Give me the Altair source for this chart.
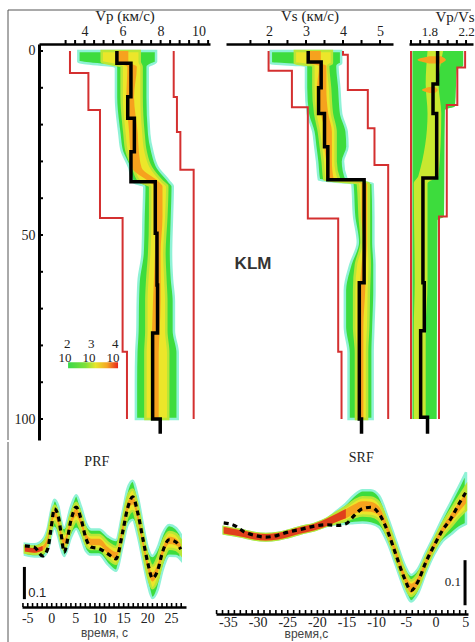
import altair as alt
import pandas as pd

SERIF = "Liberation Serif"
SANS = "Liberation Sans"

GREEN = "#3ddc3d"
FRINGE = "#8ff2d6"
YELLOW = "#ece62a"
ORANGE = "#f6a21e"
RED_CORE = "#e0401c"
BOUND_RED = "#d43030"

# ---------------- top panels (depth, km) ----------------
vp_model_depth = [0, 3.3, 12.4, 18.3, 27.4, 35.5, 49.5, 63.6, 76.6, 100, 104]
vp_model_val = [5.7, 6.44, 6.27, 6.62, 6.44, 7.72, 7.81, 7.84, 7.58, 7.98]
vp_min_depth = [0, 6, 16, 45.4, 81.7, 100]
vp_min_val = [3.23, 4.2, 4.81, 6.0, 6.23]
vp_max_depth = [0, 12.5, 22, 32.3, 100]
vp_max_val = [8.69, 8.86, 9.04, 9.74]
vp_cloud_depth = [0, 2.9, 4.3, 12.5, 22.5, 27, 31.7, 35.5, 36.8, 45, 55, 62, 68, 76, 82, 90, 100]
vp_outer_l = [3.67, 3.67, 5.65, 5.65, 5.83, 5.95, 6.35, 6.53, 7.14, 7.1, 7.05, 6.85, 6.8, 6.78, 6.72, 6.7, 6.7]
vp_outer_r = [7.76, 7.76, 7.32, 7.32, 7.4, 7.55, 7.85, 8.46, 8.64, 8.6, 8.55, 8.6, 8.7, 8.7, 8.9, 8.9, 8.9]
vp_yel_l = [4.9, 4.9, 5.95, 5.95, 6.1, 6.2, 6.55, 6.9, 7.45, 7.45, 7.4, 7.3, 7.25, 7.25, 7.2, 7.2, 7.2]
vp_yel_r = [6.9, 6.9, 7.0, 7.0, 7.1, 7.2, 7.5, 8.1, 8.35, 8.3, 8.2, 8.25, 8.3, 8.3, 8.4, 8.4, 8.4]
vp_org_l = [5.6, 5.6, 6.25, 6.2, 6.35, 6.4, 6.5, 7.4, 7.7, 7.72, 7.7, 7.65, 7.6, 7.55, 7.5, 7.5, 7.5]
vp_org_r = [6.3, 6.3, 6.75, 6.6, 6.8, 6.85, 7.0, 7.9, 8.1, 8.1, 8.0, 8.0, 8.0, 7.95, 7.9, 7.9, 7.9]

vs_model_depth = [0, 3, 10, 17, 26, 35, 63, 100, 104]
vs_model_val = [3.06, 3.41, 3.34, 3.50, 3.59, 4.57, 4.44, 4.50]
vs_min_depth = [0, 5.4, 15.3, 45.5, 81.7, 100]
vs_min_val = [1.99, 2.62, 3.05, 3.87, 3.96]
vs_max_depth = [0, 1, 10.6, 21, 31, 100]
vs_max_val = [4.0, 4.13, 4.67, 4.85, 5.22]
vs_cloud_depth = [0, 3.3, 4, 10, 17, 22, 26, 30, 35, 36, 45, 52, 58, 65, 75, 82, 90, 100]
vs_outer_l = [2.05, 2.05, 3.0, 3.0, 3.05, 3.2, 3.25, 3.3, 3.35, 4.25, 4.3, 4.4, 4.2, 4.05, 4.05, 4.15, 4.15, 4.15]
vs_outer_r = [3.95, 3.95, 3.85, 3.9, 3.95, 4.1, 4.12, 4.0, 4.1, 4.8, 4.82, 4.82, 4.85, 4.85, 4.82, 4.8, 4.8, 4.8]
vs_yel_l = [2.7, 2.7, 3.2, 3.2, 3.25, 3.35, 3.4, 3.45, 3.5, 4.4, 4.45, 4.5, 4.35, 4.3, 4.3, 4.35, 4.35, 4.35]
vs_yel_r = [3.7, 3.7, 3.6, 3.65, 3.7, 3.8, 3.8, 3.8, 3.9, 4.7, 4.7, 4.7, 4.72, 4.7, 4.68, 4.65, 4.65, 4.65]
vs_org_l = [3.1, 3.1, 3.35, 3.3, 3.4, 3.5, 3.5, 3.55, 3.6, 4.5, 4.5, 4.55, 4.5, 4.45, 4.42, 4.42, 4.42, 4.42]
vs_org_r = [3.4, 3.4, 3.55, 3.55, 3.6, 3.7, 3.7, 3.7, 3.75, 4.65, 4.65, 4.65, 4.62, 4.6, 4.55, 4.55, 4.55, 4.55]

vpvs_model_depth = [0, 9, 17, 34.5, 63, 76, 99.5, 104]
vpvs_model_val = [1.89, 1.84, 1.88, 1.73, 1.745, 1.705, 1.78]
vpvs_min_depth = [0, 100]
vpvs_min_val = [1.6]
vpvs_max_depth = [0, 4.5, 14.7, 45, 100]
vpvs_max_val = [2.19, 2.105, 1.99, 1.905]
vpvs_cloud_depth = [0, 4, 5, 15, 16, 45, 46, 100]
vpvs_outer_l = [1.615, 1.615, 1.615, 1.615, 1.615, 1.615, 1.615, 1.615]
vpvs_outer_r = [2.17, 2.17, 2.1, 2.08, 1.97, 1.96, 1.89, 1.88]
vpvs_yel_depth = [0, 9, 17, 34, 36, 63, 76, 100]
vpvs_yel_l = [1.78, 1.76, 1.78, 1.68, 1.63, 1.64, 1.63, 1.63]
vpvs_yel_r = [1.95, 1.9, 1.93, 1.9, 1.78, 1.78, 1.76, 1.76]
blob1_depth = [1.4, 2.4, 3.4]
blob1_l = [1.8, 1.67, 1.8]
blob1_r = [1.93, 1.98, 1.93]
blob2_depth = [9.8, 10.6, 11.4]
blob2_l = [1.8, 1.72, 1.8]
blob2_r = [1.86, 1.89, 1.86]

# ---------------- receiver functions ----------------
prf_t = [-5.6, -3.6, -1.9, -0.8, -0.15, 0.55, 1.4, 1.9, 2.6, 4.0, 5.1, 6.1, 7.15, 8.2, 9.9,
         11.7, 13.4, 14.8, 15.8, 16.9, 17.9, 19.0, 20.0, 21.0, 22.1, 23.1, 24.5, 25.9, 26.9]
prf_dash = [0.004, -0.001, -0.032, -0.004, 0.065, 0.137, 0.107, 0.054, -0.018, 0.095, 0.143, 0.101,
            0.030, 0.000, -0.006, -0.024, -0.042, 0.054, 0.137, 0.179, 0.125, 0.030, -0.054, -0.111,
            -0.083, -0.018, 0.026, 0.018, -0.008]
prf_mid = [-0.008, -0.012, -0.004, 0.030, 0.083, 0.119, 0.089, 0.048, 0.018, 0.089, 0.125, 0.089,
           0.036, 0.018, 0.018, -0.012, -0.030, 0.065, 0.143, 0.167, 0.113, 0.018, -0.065, -0.107,
           -0.077, -0.018, 0.024, 0.018, 0.000]
prf_hw_green = [0.02, 0.022, 0.03, 0.04, 0.045, 0.05, 0.055, 0.05, 0.05, 0.055, 0.06, 0.055, 0.05, 0.045,
                0.045, 0.05, 0.055, 0.06, 0.065, 0.07, 0.07, 0.065, 0.065, 0.075, 0.075, 0.065, 0.055, 0.05, 0.045]
prf_hw_yellow = [0.012, 0.013, 0.017, 0.022, 0.025, 0.028, 0.03, 0.028, 0.028, 0.03, 0.033, 0.03, 0.028,
                 0.025, 0.025, 0.028, 0.03, 0.033, 0.036, 0.038, 0.038, 0.036, 0.036, 0.04, 0.04, 0.036,
                 0.03, 0.028, 0.025]
prf_hw_orange = [0.008, 0.008, 0.008, 0.01, 0.01, 0.012, 0.012, 0.012, 0.012, 0.012, 0.014, 0.012, 0.012,
                 0.012, 0.012, 0.012, 0.012, 0.014, 0.015, 0.015, 0.015, 0.015, 0.015, 0.016, 0.016, 0.015,
                 0.013, 0.012, 0.011]
prf_red_n = 3  # leading samples where the band core is red

srf_t = [-35.8, -34.0, -32.3, -30.6, -28.7, -26.7, -25.0, -22.8, -20.5, -18.3, -16.6, -15.2, -13.8,
         -12.4, -11.0, -9.6, -8.1, -6.7, -5.3, -4.2, -3.1, -1.7, -0.3, 1.1, 2.5, 3.9, 5.06]
srf_dash = [0.020, 0.0145, 0.0, -0.007, -0.011, -0.007, 0.0, 0.006, 0.013, 0.016, 0.0145, 0.018, 0.036,
            0.051, 0.054, 0.040, 0.0, -0.051, -0.101, -0.127, -0.109, -0.065, -0.029, 0.004, 0.029, 0.062, 0.087]
srf_mid = [0.004, 0.0, -0.004, -0.009, -0.011, -0.009, -0.004, 0.004, 0.011, 0.022, 0.032, 0.040, 0.050,
           0.056, 0.055, 0.045, 0.003, -0.048, -0.098, -0.122, -0.108, -0.066, -0.028, 0.005, 0.030, 0.055, 0.074]
srf_hw_green = [0.007] * 9 + [0.008, 0.015, 0.022, 0.03, 0.035, 0.036, 0.034, 0.028, 0.027, 0.027, 0.029,
                              0.027, 0.022, 0.02, 0.025, 0.035, 0.045, 0.056]
srf_hw_yellow = [0.007] * 9 + [0.008, 0.012, 0.015, 0.018, 0.02, 0.02, 0.019, 0.016, 0.016, 0.016, 0.017,
                               0.016, 0.013, 0.012, 0.014, 0.018, 0.022, 0.026]
srf_hw_orange = [0.007] * 9 + [0.008, 0.009, 0.01, 0.01, 0.011, 0.011, 0.01, 0.009, 0.009, 0.009, 0.01,
                               0.009, 0.008, 0.007, 0.008, 0.009, 0.01, 0.011]
srf_red_n = 12

# ---------------- ticks and labels ----------------
vp_labels = [4, 6, 8, 10]
vp_ticks = [3, 3.5, 4, 4.5, 5, 5.5, 6, 6.5, 7, 7.5, 8, 8.5, 9, 9.5, 10, 10.5]
vs_labels = [2, 3, 4, 5]
vs_ticks = [1.5, 2, 2.5, 3, 3.5, 4, 4.5, 5]
vpvs_labels = [1.8, 2.2]
vpvs_ticks = [1.6, 1.7, 1.8, 1.9, 2.0, 2.1, 2.2]
depth_labels = [0, 50, 100]
depth_ticks = [0, 10, 20, 30, 40, 50, 60, 70, 80, 90, 100]
prf_labels = [-5, 0, 5, 10, 15, 20, 25]
prf_ticks = list(range(-6, 28))
srf_labels = [-35, -30, -25, -20, -15, -10, -5, 0, 5]
srf_ticks = list(range(-37, 6))

vp_title = "Vp (км/с)"
vs_title = "Vs (км/с)"
vpvs_title = "Vp/Vs"
station = ["KLM"]
cb_exponents = ["2", "3", "4"]
cb_base = ["10", "10", "10"]
time_title_p = "время, с"
time_title_s = "время,с"
bar_label = ["0.1"]
rf_names = ["PRF", "SRF"]

DEPTH_DOM = [-1.9, 105.7]
TOP_H = 396
ONE = pd.DataFrame({"a": [0]})


def steps(depths, vals):
    rows = []
    for i, v in enumerate(vals):
        rows.append({"v": v, "d": depths[i], "i": 2 * i})
        rows.append({"v": v, "d": depths[i + 1], "i": 2 * i + 1})
    return pd.DataFrame(rows)


def top_axis(values, title, title_x=None, label_size=14, fmt=None):
    kw = dict(orient="top", values=values, title=title, ticks=False,
              domainColor="black", domainWidth=2.5,
              labelFont=SERIF, labelFontSize=label_size, labelColor="#222", labelPadding=6,
              labelOverlap=False, labelFlush=False,
              titleFont=SERIF, titleFontSize=15, titleFontWeight="normal", titleColor="#222",
              titlePadding=1, grid=False)
    if fmt:
        kw["format"] = fmt
    if title_x is not None:
        kw["titleX"] = title_x
        kw["titleAlign"] = "left"
    return alt.Axis(**kw)


depth_axis = alt.Axis(orient="left", values=depth_labels, title=None, ticks=False,
                      domainColor="black", domainWidth=3,
                      labelFont=SERIF, labelFontSize=14, labelColor="#222", labelPadding=4,
                      labelOverlap=False, grid=False)


def profile_panel(xdom, width, xaxis, yaxis, ticks, clouds, bound_sets, model, extras=()):
    xs = alt.Scale(domain=xdom, nice=False, zero=False)
    ys = alt.Scale(domain=DEPTH_DOM, reverse=True, nice=False, zero=False)
    layers = []
    for depths, left, right, fill, stroke in clouds:
        df = pd.DataFrame({"d": depths, "l": left, "r": right})
        mk = dict(orient="horizontal", interpolate="monotone", color=fill)
        if stroke:
            mk.update(stroke=stroke, strokeWidth=2.5)
        layers.append(alt.Chart(df).mark_area(**mk).encode(
            y=alt.Y("d:Q", scale=ys, axis=yaxis),
            x=alt.X("l:Q", scale=xs, axis=xaxis),
            x2=alt.X2("r:Q")))
    for depths, vals in bound_sets:
        layers.append(alt.Chart(steps(depths, vals)).mark_line(color=BOUND_RED, strokeWidth=2).encode(
            y=alt.Y("d:Q", scale=ys, axis=yaxis), x=alt.X("v:Q", scale=xs, axis=xaxis),
            order=alt.Order("i:Q")))
    layers.append(alt.Chart(steps(*model)).mark_line(color="black", strokeWidth=3.5).encode(
        y=alt.Y("d:Q", scale=ys, axis=yaxis), x=alt.X("v:Q", scale=xs, axis=xaxis),
        order=alt.Order("i:Q")))
    layers.append(alt.Chart(pd.DataFrame({"v": ticks})).mark_rule(color="black", strokeWidth=2).encode(
        x=alt.X("v:Q", scale=xs, axis=xaxis), y=alt.value(-4), y2=alt.value(0)))
    for e in extras:
        layers.append(e(xs, ys))
    return alt.layer(*layers).properties(width=width, height=TOP_H)


def depth_tick_layer(xs, ys):
    return alt.Chart(pd.DataFrame({"d": depth_ticks})).mark_rule(color="black", strokeWidth=2).encode(
        y=alt.Y("d:Q", scale=ys, axis=depth_axis), x=alt.value(0), x2=alt.value(4))


def frame_top(xs, ys):
    return alt.Chart(ONE).mark_rule(color="#555", strokeWidth=1).encode(
        x=alt.value(-31), x2=alt.value(432), y=alt.value(-34))


def frame_left(xs, ys):
    return alt.Chart(ONE).mark_rule(color="#555", strokeWidth=1).encode(
        x=alt.value(-31), y=alt.value(-34), y2=alt.value(TOP_H))


def colorbar(xs, ys):
    grad = alt.Gradient(gradient="linear", x1=0, x2=1, y1=0, y2=0, stops=[
        alt.GradientStop(color="#39d94a", offset=0),
        alt.GradientStop(color="#7fe03a", offset=0.35),
        alt.GradientStop(color="#e6e62a", offset=0.55),
        alt.GradientStop(color="#f5a623", offset=0.78),
        alt.GradientStop(color="#e8261c", offset=1)])
    return alt.Chart(ONE).mark_rect(color=grad).encode(
        x=alt.datum(3.13, scale=xs), x2=alt.datum(5.76), y=alt.datum(84.6, scale=ys), y2=alt.datum(86.2))


def cb_text(i, xpos):
    def f(xs, ys):
        base = alt.Chart(pd.DataFrame({"b": [cb_base[i]], "e": [cb_exponents[i]]}))
        t1 = base.mark_text(font=SERIF, fontSize=13, color="#222", baseline="middle").encode(
            x=alt.datum(xpos, scale=xs), y=alt.datum(83.3, scale=ys), text="b:N")
        t2 = base.mark_text(font=SERIF, fontSize=13, color="#222", baseline="middle").encode(
            x=alt.datum(xpos + 0.12, scale=xs), y=alt.datum(79.6, scale=ys), text="e:N")
        return alt.layer(t1, t2)
    return f


def klm(xs, ys):
    return alt.Chart(pd.DataFrame({"s": station})).mark_text(
        font=SANS, fontSize=17, fontWeight="bold", color="#333").encode(
        x=alt.datum(1.57, scale=xs), y=alt.datum(58, scale=ys), text="s:N")


vp_axis = top_axis(vp_labels, vp_title)
vs_axis = top_axis(vs_labels, vs_title)
vpvs_axis = top_axis(vpvs_labels, vpvs_title, title_x=26, label_size=13, fmt=".1f")

vp_panel = profile_panel(
    [1.6, 10.6], 171, vp_axis, depth_axis, vp_ticks,
    [(vp_cloud_depth, vp_outer_l, vp_outer_r, GREEN, FRINGE),
     (vp_cloud_depth, vp_yel_l, vp_yel_r, YELLOW, "#b9e636"),
     (vp_cloud_depth, vp_org_l, vp_org_r, ORANGE, None)],
    [(vp_min_depth, vp_min_val), (vp_max_depth, vp_max_val)],
    (vp_model_depth, vp_model_val),
    extras=(depth_tick_layer, frame_top, frame_left, colorbar,
            cb_text(0, 2.97), cb_text(1, 4.23), cb_text(2, 5.49)))

vs_panel = profile_panel(
    [0.84, 5.35], 167, vs_axis, None, vs_ticks,
    [(vs_cloud_depth, vs_outer_l, vs_outer_r, GREEN, FRINGE),
     (vs_cloud_depth, vs_yel_l, vs_yel_r, YELLOW, "#b9e636"),
     (vs_cloud_depth, vs_org_l, vs_org_r, ORANGE, None)],
    [(vs_min_depth, vs_min_val), (vs_max_depth, vs_max_val)],
    (vs_model_depth, vs_model_val),
    extras=(klm,))

vpvs_panel = profile_panel(
    [1.578, 2.276], 64, vpvs_axis, None, vpvs_ticks,
    [(vpvs_cloud_depth, vpvs_outer_l, vpvs_outer_r, GREEN, None),
     (vpvs_yel_depth, vpvs_yel_l, vpvs_yel_r, "#c8e830", None),
     (blob1_depth, blob1_l, blob1_r, ORANGE, None),
     (blob2_depth, blob2_l, blob2_r, ORANGE, None)],
    [(vpvs_min_depth, vpvs_min_val), (vpvs_max_depth, vpvs_max_val)],
    (vpvs_model_depth, vpvs_model_val))

# empty 1-px column: lets the profile panels start to the right of the PRF panel below
spacer = alt.Chart(ONE).mark_point(opacity=0).encode(
    x=alt.value(0), y=alt.value(0)).properties(width=1, height=TOP_H)


# ---------------- receiver function panels ----------------
def time_axis(title, pad, title_x=None):
    kw = dict(orient="bottom", values=[], title=title, ticks=False, labels=False,
              domainColor="black", domainWidth=2.5,
              titleFont=SANS, titleFontSize=12, titleFontWeight="normal", titleColor="#444",
              titlePadding=pad, grid=False)
    if title_x is not None:
        kw["titleX"] = title_x
        kw["titleAlign"] = "left"
    return alt.Axis(**kw)


def rf_panel(t, dash, mid, hwg, hwy, hwo, red_n, xdom, ydom, width, height, xaxis, ticks, labels,
             label_dy, name_i, name_t, name_dy, bar, bar_text, frame=False):
    xs = alt.Scale(domain=xdom, nice=False, zero=False)
    ys = alt.Scale(domain=ydom, nice=False, zero=False)
    band = pd.DataFrame({"t": t, "mid": mid, "g": hwg, "y": hwy, "o": hwo})
    for k in ("g", "y", "o"):
        band[k + "_lo"] = band["mid"] - band[k]
        band[k + "_hi"] = band["mid"] + band[k]
    layers = []
    for key, fill, stroke in [("g", GREEN, FRINGE), ("y", YELLOW, "#b9e636"), ("o", ORANGE, None)]:
        mk = dict(interpolate="monotone", color=fill)
        if stroke:
            mk.update(stroke=stroke, strokeWidth=2.5)
        layers.append(alt.Chart(band).mark_area(**mk).encode(
            x=alt.X("t:Q", scale=xs, axis=xaxis),
            y=alt.Y(key + "_lo:Q", scale=ys, axis=None), y2=alt.Y2(key + "_hi:Q")))
    layers.append(alt.Chart(band.iloc[:red_n]).mark_area(interpolate="monotone", color=RED_CORE).encode(
        x=alt.X("t:Q", scale=xs, axis=xaxis),
        y=alt.Y("o_lo:Q", scale=ys, axis=None), y2=alt.Y2("o_hi:Q")))
    dl = pd.DataFrame({"t": t, "a": dash})
    layers.append(alt.Chart(dl).mark_line(color="black", strokeWidth=3.2, strokeDash=[5, 4],
                                          interpolate="monotone").encode(
        x=alt.X("t:Q", scale=xs, axis=xaxis), y=alt.Y("a:Q", scale=ys, axis=None)))
    # tick dots above the time axis, and the tick labels below it
    layers.append(alt.Chart(pd.DataFrame({"t": ticks})).mark_rule(color="black", strokeWidth=1.6).encode(
        x=alt.X("t:Q", scale=xs, axis=xaxis), y=alt.value(height - 4), y2=alt.value(height)))
    lab = pd.DataFrame({"t": labels, "s": [str(v) for v in labels]})
    layers.append(alt.Chart(lab).mark_text(font=SERIF, fontSize=14, color="#222", baseline="top").encode(
        x=alt.X("t:Q", scale=xs, axis=xaxis), y=alt.value(height + label_dy), text="s:N"))
    bx, b1, b2 = bar
    layers.append(alt.Chart(ONE).mark_rule(color="black", strokeWidth=3).encode(
        x=alt.datum(bx, scale=xs), y=alt.datum(b1, scale=ys), y2=alt.datum(b2)))
    tx, ty, tfont, talign = bar_text
    layers.append(alt.Chart(pd.DataFrame({"s": bar_label})).mark_text(
        font=tfont, fontSize=13, color="#222", align=talign, baseline="middle").encode(
        x=alt.datum(tx, scale=xs), y=alt.datum(ty, scale=ys), text="s:N"))
    layers.append(alt.Chart(pd.DataFrame({"s": [rf_names[name_i]]})).mark_text(
        font=SERIF, fontSize=14, color="#222", baseline="alphabetic").encode(
        x=alt.datum(name_t, scale=xs), y=alt.value(name_dy), text="s:N"))
    if frame:
        layers.append(alt.Chart(ONE).mark_rule(color="#555", strokeWidth=1).encode(
            x=alt.value(-14), y=alt.value(-28), y2=alt.value(172)))
    return alt.layer(*layers).properties(width=width, height=height)


prf_panel = rf_panel(prf_t, prf_dash, prf_mid, prf_hw_green, prf_hw_yellow, prf_hw_orange, prf_red_n,
                     [-6.2, 28], [-0.214, 0.275], 164, 137, time_axis(time_title_p, 20), prf_ticks, prf_labels,
                     5, 0, 9.4, -4, (-5.7, -0.071, -0.186), (-4.9, -0.164, SANS, "left"), frame=True)
srf_panel = rf_panel(srf_t, srf_dash, srf_mid, srf_hw_green, srf_hw_yellow, srf_hw_orange, srf_red_n,
                     [-37.1, 5.4], [-0.178, 0.135], 252, 144,
                     time_axis(time_title_s, 14, title_x=68), srf_ticks, srf_labels,
                     2, 1, -12.6, -8, (4.9, -0.061, -0.159), (4.2, -0.109, SERIF, "right"))

top_row = alt.hconcat(spacer, vp_panel, vs_panel, vpvs_panel, spacing=16, bounds="flush")
bottom_row = alt.hconcat(prf_panel, srf_panel, spacing=30, bounds="flush")

chart = alt.vconcat(top_row, bottom_row, spacing=0).properties(
    padding={"left": 7, "top": 8, "right": 0, "bottom": 0},
    background="white"
).configure_view(stroke="transparent", strokeWidth=0)

chart.save("out.html", embed_options={"renderer": "svg", "actions": False})
